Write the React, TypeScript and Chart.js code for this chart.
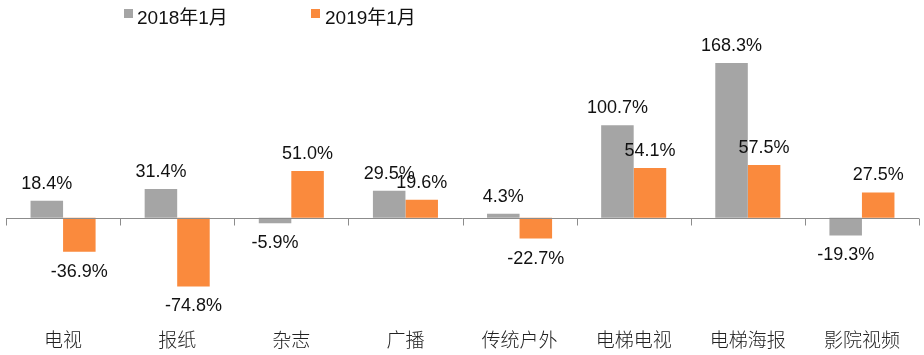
import React, { useEffect, useRef } from "react";
import { Chart, registerables } from "chart.js";

Chart.register(...registerables);

const categories = ["电视", "报纸", "杂志", "广播", "传统户外", "电梯电视", "电梯海报", "影院视频"];
const series2018 = [18.4, 31.4, -5.9, 29.5, 4.3, 100.7, 168.3, -19.3];
const series2019 = [-36.9, -74.8, 51.0, 19.6, -22.7, 54.1, 57.5, 27.5];
const seriesNames = ["2018年1月", "2019年1月"];
const seriesColors = ["#A5A5A5", "#FA8A3D"];

const LATIN = '"Liberation Sans", Arial, "Noto Sans CJK SC", sans-serif';
const CJK = '"Noto Sans CJK SC", "Liberation Sans", sans-serif';

const zeroAxisPlugin = {
  id: "zeroAxis",
  afterDatasetsDraw(chart: any) {
    const xs = chart.scales.x;
    const ys = chart.scales.y;
    const ctx = chart.ctx;
    const y0 = Math.round(ys.getPixelForValue(0)) + 0.5;
    const n = categories.length;
    const step = xs.width / n;
    ctx.save();
    ctx.strokeStyle = "#8C8C8C";
    ctx.lineWidth = 1;
    ctx.beginPath();
    ctx.moveTo(xs.left, y0);
    ctx.lineTo(xs.right, y0);
    for (let i = 0; i <= n; i++) {
      const x = Math.round(xs.left + i * step) + 0.5;
      ctx.moveTo(x, y0);
      ctx.lineTo(x, y0 + 7);
    }
    ctx.stroke();
    ctx.restore();
  },
};

const valueLabelPlugin = {
  id: "valueLabels",
  afterDatasetsDraw(chart: any) {
    const ctx = chart.ctx;
    ctx.save();
    ctx.font = `18px ${LATIN}`;
    ctx.fillStyle = "#111";
    ctx.textAlign = "center";
    ctx.textBaseline = "alphabetic";
    chart.data.datasets.forEach((ds: any, di: number) => {
      const meta = chart.getDatasetMeta(di);
      meta.data.forEach((el: any, i: number) => {
        const v = ds.data[i];
        const txt = v.toFixed(1) + "%";
        const y = v >= 0 ? el.y - 12 : el.y + 25;
        ctx.fillText(txt, el.x, y);
      });
    });
    ctx.restore();
  },
};

export default function App() {
  const canvasRef = useRef<HTMLCanvasElement | null>(null);

  useEffect(() => {
    if (!canvasRef.current) return;
    const chart = new Chart(canvasRef.current, {
      type: "bar",
      data: {
        labels: categories,
        datasets: [
          { label: seriesNames[0], data: series2018, backgroundColor: seriesColors[0] },
          { label: seriesNames[1], data: series2019, backgroundColor: seriesColors[1] },
        ],
      },
      options: {
        animation: false,
        responsive: false,
        maintainAspectRatio: false,
        layout: { padding: { left: 6, right: 5, top: 34, bottom: -5.4 } },
        datasets: { bar: { categoryPercentage: 0.57, barPercentage: 1.0 } },
        plugins: { legend: { display: false }, tooltip: { enabled: false } },
        scales: {
          x: {
            grid: { display: false, drawTicks: false, tickLength: 0 },
            border: { display: false },
            ticks: { padding: 9.4, color: "#222", font: { family: CJK, size: 19, weight: "300" }, maxRotation: 0, autoSkip: false },
          },
          y: {
            display: false,
            min: -110,
            max: 200,
          },
        },
      },
      plugins: [zeroAxisPlugin, valueLabelPlugin],
    });
    return () => chart.destroy();
  }, []);

  const legendText: React.CSSProperties = {
    position: "absolute",
    top: 7,
    fontFamily: LATIN,
    fontSize: 19,
    lineHeight: "22px",
    color: "#111",
    whiteSpace: "nowrap",
  };
  const sq = (left: number, color: string): React.CSSProperties => ({
    position: "absolute",
    left,
    top: 9,
    width: 9,
    height: 9,
    background: color,
  });

  return (
    <div style={{ position: "fixed", left: 0, top: 0, width: 924, height: 355, background: "#fff" }}>
      <canvas ref={canvasRef} width={924} height={355} style={{ position: "absolute", left: 0, top: 0 }} />
      <div style={sq(124, seriesColors[0])} />
      <div style={{ ...legendText, left: 137 }}>{seriesNames[0]}</div>
      <div style={sq(311, seriesColors[1])} />
      <div style={{ ...legendText, left: 325 }}>{seriesNames[1]}</div>
    </div>
  );
}
